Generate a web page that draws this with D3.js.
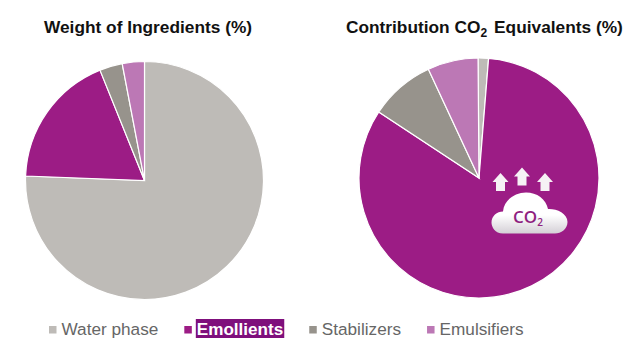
<!DOCTYPE html>
<html>
  <head>
    <meta charset="utf-8">
    <title>Weight of ingredients and CO2 contribution</title>
    <script src="https://cdn.jsdelivr.net/npm/d3@7"></script>
    <style>
      html, body { margin: 0; padding: 0; background: #fff; }
      svg { display: block; font-family: "Liberation Sans", Arial, sans-serif; }
      .title { font-size: 17.3px; font-weight: bold; fill: #111; }
      .label { font-size: 17.2px; fill: #666; }
    </style>
  </head>

  <body>
    <svg id="chart" width="640" height="350">
      <defs>
        <linearGradient id="cloudFill" x1="0" x2="0" y1="0" y2="1">
          <stop offset="0.55" stop-color="#ffffff"></stop>
          <stop offset="1" stop-color="#d4d0d6"></stop>
        </linearGradient>
      </defs>
    </svg>

    <script>
      // data
      const categories = ["Water phase", "Emollients", "Stabilizers", "Emulsifiers"];
      const weightValues = [75.6, 18.3, 3.1, 3.0];
      const co2Values = [1.4, 83.0, 8.8, 6.8];
      const colours = ["#bebbb7", "#9c1c85", "#97938c", "#bc78b5"];
      const highlighted = "Emollients";

      const chart = d3.select("#chart");
      const colour = d3.scaleOrdinal().domain(categories).range(colours);

      function drawPie(values, cx, cy, radius, startAngle) {
        const pie = d3.pie().sort(null)
          .startAngle(startAngle)
          .endAngle(startAngle + 2 * Math.PI);
        const arc = d3.arc().innerRadius(0).outerRadius(radius);

        chart.append("g")
          .attr("transform", "translate(" + cx + "," + cy + ")")
          .selectAll("path")
            .data(pie(values))
          .enter().append("path")
            .attr("d", arc)
            .attr("fill", function(d, i) { return colour(categories[i]); })
            .attr("stroke", "#fff")
            .attr("stroke-width", 1.2);
      }

      drawPie(weightValues, 144.5, 180.5, 119, 0);
      drawPie(co2Values, 479, 178, 120, -0.008);

      // titles
      chart.append("text")
        .attr("class", "title")
        .attr("x", 44)
        .attr("y", 33)
        .text("Weight of Ingredients (%)");

      const co2Title = chart.append("text")
        .attr("class", "title")
        .attr("x", 346)
        .attr("y", 33);
      co2Title.append("tspan").text("Contribution CO");
      co2Title.append("tspan").attr("dy", 4).style("font-size", "12px").text("2");
      co2Title.append("tspan").attr("dy", -4).attr("dx", 7).text("Equivalents (%)");

      // cloud icon
      const icon = chart.append("g");
      [[500.5, 173], [522, 167.5], [545, 173]].forEach(function(p) {
        icon.append("path")
          .attr("transform", "translate(" + p[0] + "," + p[1] + ")")
          .attr("d", "M0,0L8,9H4.5V18H-4.5V9H-8Z")
          .attr("fill", "#f6f1f5");
      });
      icon.append("path")
        .attr("d", "M503,233.5C495,233.5 491.5,227 491.5,222.5C491.5,216 497,211.5 503,211.5C504,200 515,192.5 526,192.5C537,192.5 546,199 548,209C556,208.5 567.5,213 567.5,222C567.5,229 561,233.5 555,233.5Z")
        .attr("fill", "url(#cloudFill)");
      const co2Icon = icon.append("text")
        .attr("x", 513)
        .attr("y", 223)
        .attr("fill", "#8f1f80")
        .style("font-family", "'Open Sans', sans-serif")
        .style("font-size", "17px")
        .style("font-weight", "600");
      co2Icon.append("tspan").text("CO");
      co2Icon.append("tspan").attr("dy", 3).style("font-size", "10px").text("2");

      // legend, laid out from the widths of its labels
      let legendX = 49;
      categories.forEach(function(name) {
        const isOn = name === highlighted;

        chart.append("rect")
          .attr("x", legendX)
          .attr("y", 326)
          .attr("width", 7.5)
          .attr("height", 7.5)
          .attr("fill", colour(name));

        const bg = chart.append("rect");
        const label = chart.append("text")
          .attr("class", "label")
          .attr("x", legendX + 12.5)
          .attr("y", 335)
          .style("font-weight", isOn ? "bold" : "normal")
          .style("font-size", isOn ? "17.1px" : null)
          .style("fill", isOn ? "#fff" : null)
          .text(name);
        const w = label.node().getComputedTextLength();

        if (isOn) {
          bg.attr("x", legendX + 11.5)
            .attr("y", 319)
            .attr("width", w + 2)
            .attr("height", 19)
            .attr("fill", "#7f0f7c");
        } else {
          bg.remove();
        }
        legendX += 12.5 + w + 26;
      });
    </script>
  </body>
</html>
